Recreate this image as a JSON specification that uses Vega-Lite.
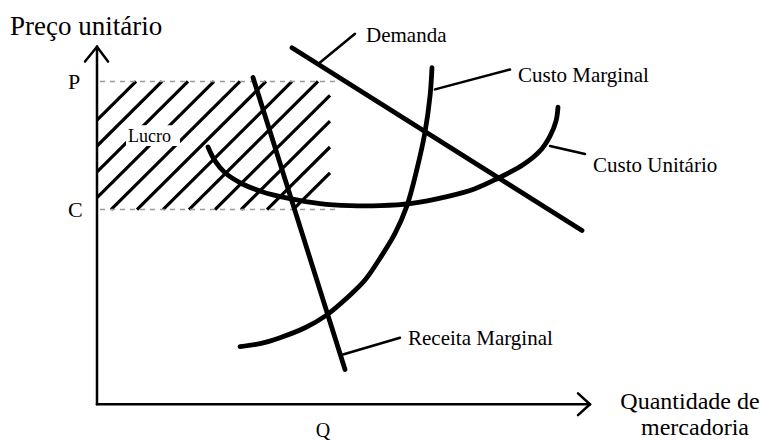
{
  "$schema": "https://vega.github.io/schema/vega-lite/v6.json",
  "width": 774,
  "height": 441,
  "autosize": {"type": "fit", "contains": "padding"},
  "padding": 0,
  "background": "white",
  "config": {"view": {"stroke": null}, "text": {"font": "Liberation Serif", "color": "black"}},
  "datasets": {
    "hatch": [
      {"q": 0, "p": 286, "q2": 39, "p2": 325},
      {"q": 0, "p": 260, "q2": 65, "p2": 325},
      {"q": 0, "p": 234, "q2": 91, "p2": 325},
      {"q": 0, "p": 208, "q2": 117, "p2": 325},
      {"q": 14, "p": 196, "q2": 143, "p2": 325},
      {"q": 40, "p": 196, "q2": 169, "p2": 325},
      {"q": 66, "p": 196, "q2": 195, "p2": 325},
      {"q": 92, "p": 196, "q2": 221, "p2": 325},
      {"q": 118, "p": 196, "q2": 233, "p2": 311},
      {"q": 144, "p": 196, "q2": 233, "p2": 285},
      {"q": 170, "p": 196, "q2": 233, "p2": 259},
      {"q": 196, "p": 196, "q2": 233, "p2": 233}
    ],
    "guides": [
      {"name": "P", "q": 3, "q2": 240, "p": 325},
      {"name": "C", "q": 3, "q2": 240, "p": 196}
    ],
    "lucroBox": [{"q": 29, "q2": 83, "p": 260, "p2": 281}],
    "curves": [
      {"curve": "Demanda", "i": 0, "q": 195, "p": 359},
      {"curve": "Demanda", "i": 1, "q": 485, "p": 175},
      {"curve": "Receita Marginal", "i": 0, "q": 156, "p": 329},
      {"curve": "Receita Marginal", "i": 1, "q": 248, "p": 35},
      {"curve": "Custo Marginal", "i": 0, "q": 143, "p": 58},
      {"curve": "Custo Marginal", "i": 1, "q": 163, "p": 61},
      {"curve": "Custo Marginal", "i": 2, "q": 183, "p": 67},
      {"curve": "Custo Marginal", "i": 3, "q": 208, "p": 77},
      {"curve": "Custo Marginal", "i": 4, "q": 230, "p": 90},
      {"curve": "Custo Marginal", "i": 5, "q": 250, "p": 107},
      {"curve": "Custo Marginal", "i": 6, "q": 268, "p": 125},
      {"curve": "Custo Marginal", "i": 7, "q": 283, "p": 147},
      {"curve": "Custo Marginal", "i": 8, "q": 298, "p": 172},
      {"curve": "Custo Marginal", "i": 9, "q": 310, "p": 200},
      {"curve": "Custo Marginal", "i": 10, "q": 320, "p": 237},
      {"curve": "Custo Marginal", "i": 11, "q": 328, "p": 274},
      {"curve": "Custo Marginal", "i": 12, "q": 333, "p": 310},
      {"curve": "Custo Marginal", "i": 13, "q": 335, "p": 339},
      {"curve": "Custo Unitário", "i": 0, "q": 111, "p": 259},
      {"curve": "Custo Unitário", "i": 1, "q": 118, "p": 245},
      {"curve": "Custo Unitário", "i": 2, "q": 128, "p": 233},
      {"curve": "Custo Unitário", "i": 3, "q": 145, "p": 222},
      {"curve": "Custo Unitário", "i": 4, "q": 165, "p": 214},
      {"curve": "Custo Unitário", "i": 5, "q": 193, "p": 207},
      {"curve": "Custo Unitário", "i": 6, "q": 223, "p": 202},
      {"curve": "Custo Unitário", "i": 7, "q": 253, "p": 200},
      {"curve": "Custo Unitário", "i": 8, "q": 283, "p": 200},
      {"curve": "Custo Unitário", "i": 9, "q": 313, "p": 202},
      {"curve": "Custo Unitário", "i": 10, "q": 350, "p": 209},
      {"curve": "Custo Unitário", "i": 11, "q": 378, "p": 217},
      {"curve": "Custo Unitário", "i": 12, "q": 400, "p": 227},
      {"curve": "Custo Unitário", "i": 13, "q": 426, "p": 241},
      {"curve": "Custo Unitário", "i": 14, "q": 443, "p": 255},
      {"curve": "Custo Unitário", "i": 15, "q": 453, "p": 270},
      {"curve": "Custo Unitário", "i": 16, "q": 459, "p": 285},
      {"curve": "Custo Unitário", "i": 17, "q": 461, "p": 299}
    ],
    "leaders": [
      {"label": "Demanda", "q": 223, "p": 344, "q2": 258, "p2": 373},
      {"label": "Custo Marginal", "q": 338, "p": 317, "q2": 413, "p2": 337},
      {"label": "Custo Unitário", "q": 453, "p": 260, "q2": 488, "p2": 252},
      {"label": "Receita Marginal", "q": 246, "p": 50, "q2": 303, "p2": 67}
    ],
    "axes": [
      {"part": "y axis", "q": 0, "p": 0, "q2": 0, "p2": 360},
      {"part": "y arrow left", "q": -12, "p": 345, "q2": 0, "p2": 360},
      {"part": "y arrow right", "q": 11, "p": 345, "q2": 0, "p2": 360},
      {"part": "x axis", "q": 0, "p": 0, "q2": 493, "p2": 0},
      {"part": "x arrow top", "q": 481, "p": 11, "q2": 493, "p2": 0},
      {"part": "x arrow bottom", "q": 481, "p": -11, "q2": 493, "p2": 0}
    ],
    "curveLabels": [
      {"text": "Demanda", "q": 269, "p": 365},
      {"text": "Custo Marginal", "q": 421, "p": 324},
      {"text": "Custo Unitário", "q": 496, "p": 234},
      {"text": "Receita Marginal", "q": 311, "p": 60}
    ],
    "title": [{"text": "Preço unitário", "q": -87, "p": 372}],
    "lucro": [{"text": "Lucro", "q": 31, "p": 264}],
    "priceLabels": [
      {"text": "P", "q": -29, "p": 317},
      {"text": "C", "q": -29, "p": 189}
    ],
    "qtyLabels": [
      {"text": "Q", "q": 226, "p": -33}
    ],
    "xTitle": [
      {"text": "Quantidade de", "q": 593, "p": -5},
      {"text": "mercadoria", "q": 598, "p": -31}
    ]
  },
  "encoding": {
    "x": {"field": "q", "type": "quantitative", "scale": {"domain": [-97, 677], "nice": false, "zero": false}, "axis": null},
    "y": {"field": "p", "type": "quantitative", "scale": {"domain": [-34, 407], "nice": false, "zero": false}, "axis": null}
  },
  "layer": [
    {
      "data": {"name": "hatch"},
      "mark": {"type": "rule", "color": "black", "strokeWidth": 3.2, "strokeCap": "butt"},
      "encoding": {"x2": {"field": "q2"}, "y2": {"field": "p2"}}
    },
    {
      "data": {"name": "guides"},
      "mark": {"type": "rule", "color": "#9a9a9a", "strokeWidth": 1.5, "strokeDash": [5, 5]},
      "encoding": {"x2": {"field": "q2"}}
    },
    {
      "data": {"name": "lucroBox"},
      "mark": {"type": "rect", "color": "white"},
      "encoding": {"x2": {"field": "q2"}, "y2": {"field": "p2"}}
    },
    {
      "data": {"name": "lucro"},
      "mark": {"type": "text", "fontSize": 18, "align": "left", "baseline": "alphabetic"},
      "encoding": {"text": {"field": "text"}}
    },
    {
      "data": {"name": "curves"},
      "mark": {"type": "line", "color": "black", "strokeWidth": 4.8, "strokeCap": "round", "interpolate": "catmull-rom"},
      "encoding": {"detail": {"field": "curve"}, "order": {"field": "i", "type": "quantitative"}}
    },
    {
      "data": {"name": "leaders"},
      "mark": {"type": "rule", "color": "black", "strokeWidth": 2.5, "strokeCap": "round"},
      "encoding": {"x2": {"field": "q2"}, "y2": {"field": "p2"}}
    },
    {
      "data": {"name": "axes"},
      "mark": {"type": "rule", "color": "black", "strokeWidth": 2.5, "strokeCap": "round"},
      "encoding": {"x2": {"field": "q2"}, "y2": {"field": "p2"}}
    },
    {
      "data": {"name": "curveLabels"},
      "mark": {"type": "text", "fontSize": 21, "align": "left", "baseline": "alphabetic"},
      "encoding": {"text": {"field": "text"}}
    },
    {
      "data": {"name": "title"},
      "mark": {"type": "text", "fontSize": 27, "align": "left", "baseline": "alphabetic"},
      "encoding": {"text": {"field": "text"}}
    },
    {
      "data": {"name": "priceLabels"},
      "mark": {"type": "text", "fontSize": 22, "align": "left", "baseline": "alphabetic"},
      "encoding": {"text": {"field": "text"}}
    },
    {
      "data": {"name": "qtyLabels"},
      "mark": {"type": "text", "fontSize": 20, "align": "center", "baseline": "alphabetic"},
      "encoding": {"text": {"field": "text"}}
    },
    {
      "data": {"name": "xTitle"},
      "mark": {"type": "text", "fontSize": 24, "align": "center", "baseline": "alphabetic"},
      "encoding": {"text": {"field": "text"}}
    }
  ]
}
